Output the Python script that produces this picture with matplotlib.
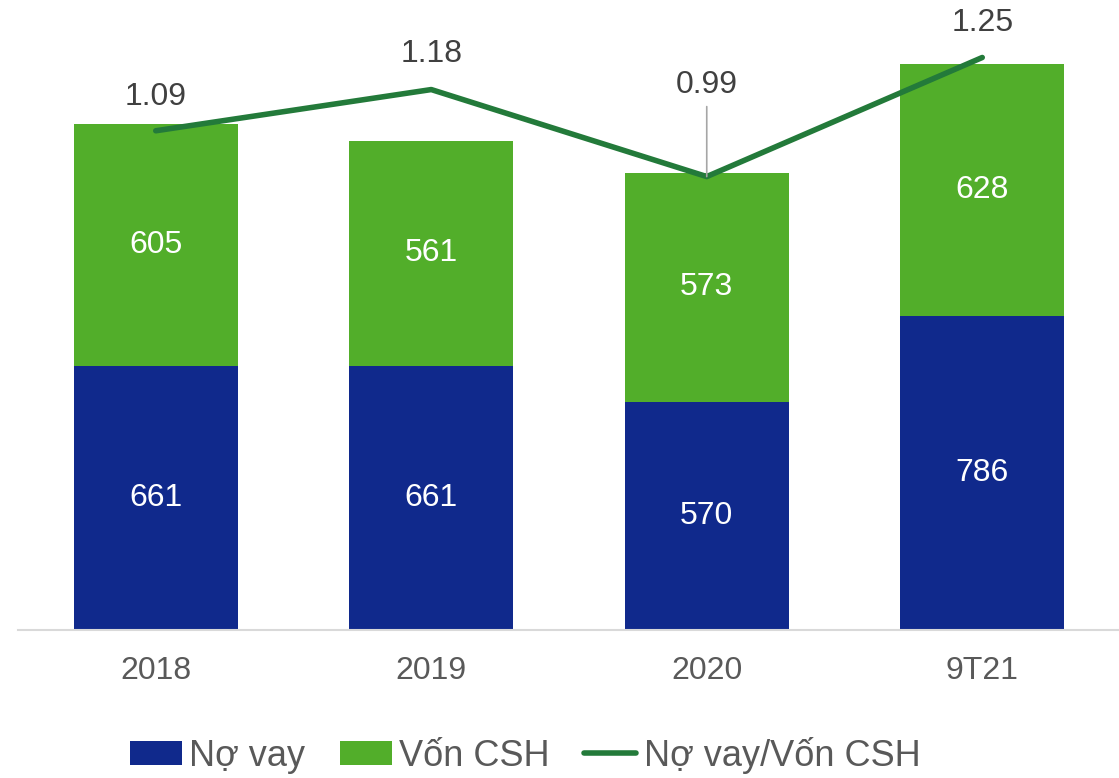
import matplotlib
matplotlib.use("Agg")
import matplotlib.pyplot as plt
import numpy as np

categories = ["2018", "2019", "2020", "9T21"]
no_vay = [661, 661, 570, 786]
von_csh = [605, 561, 573, 628]
ratio = [1.09, 1.18, 0.99, 1.25]
ratio_labels = ["1.09", "1.18", "0.99", "1.25"]

BLUE = "#10298C"
GREEN = "#52AE2A"
LINE = "#237A3A"

plt.rcParams['font.family'] = ['Liberation Sans', 'DejaVu Sans']

W, H = 1119, 778
fig = plt.figure(figsize=(W/100, H/100), dpi=100)
base_px = 630
ax = fig.add_axes([18/W, (H-base_px)/H, (1120-18)/W, base_px/H])
ax.set_xlim(-0.5, 3.5)
ax.set_ylim(0, base_px/0.4)

x = np.arange(len(categories))
bw = 0.595
b1 = ax.bar(x, no_vay, bw, color=BLUE, label="Nợ vay", zorder=2)
b2 = ax.bar(x, von_csh, bw, bottom=no_vay, color=GREEN, label="Vốn CSH", zorder=2)

for i in range(len(categories)):
    ax.text(x[i], no_vay[i]/2, str(no_vay[i]), ha="center", va="center",
            color="white", fontsize=23)
    ax.text(x[i], no_vay[i] + von_csh[i]/2, str(von_csh[i]), ha="center", va="center",
            color="white", fontsize=23)

for s in ["top", "right", "left"]:
    ax.spines[s].set_visible(False)
ax.spines["bottom"].set_color("#D9D9D9")
ax.spines["bottom"].set_linewidth(1.5)
ax.set_yticks([])
ax.set_xticks(x)
ax.set_xticklabels(categories, fontsize=23, color="#595959")
ax.tick_params(axis="x", length=0, pad=19)

ax2 = ax.twinx()
ax2.set_ylim(0, base_px/458)
ax2.set_yticks([])
for s in ax2.spines.values():
    s.set_visible(False)
ln, = ax2.plot(x, ratio, color=LINE, linewidth=4, solid_capstyle="round",
               label="Nợ vay/Vốn CSH", zorder=3)

offsets_px = [34, 36, 92, 35]
for i in range(len(categories)):
    ax2.annotate(ratio_labels[i], (x[i], ratio[i]), xytext=(0, offsets_px[i]*0.72),
                 textcoords="offset points", ha="center", va="center",
                 fontsize=23, color="#404040", zorder=4)
# leader line for 0.99
ax2.annotate("", (x[2], ratio[2]), xytext=(0, 70*0.72), textcoords="offset points",
             arrowprops=dict(arrowstyle="-", color="#A6A6A6", lw=1.2, shrinkA=0, shrinkB=0))

handles = [b1, b2, ln]
leg = fig.legend(handles, [h.get_label() for h in handles], loc="center left",
                 bbox_to_anchor=(97/W, (H-755)/H), ncol=3, frameon=False,
                 fontsize=26, handlelength=1.45, handleheight=0.65, columnspacing=0.95,
                 handletextpad=0.2, labelcolor="#595959")

fig.savefig("out.png", dpi=100)
